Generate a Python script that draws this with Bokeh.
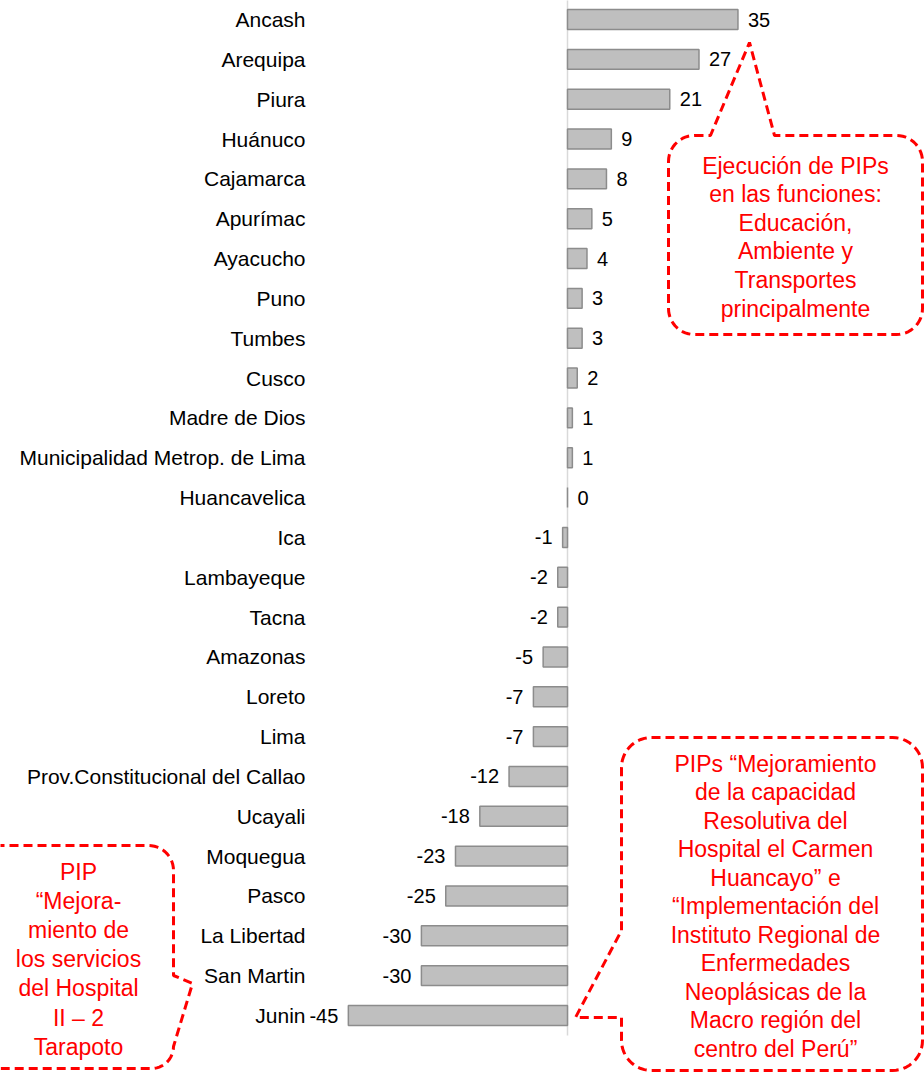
import numpy as np
from bokeh.plotting import figure
from bokeh.models import Range1d, ColumnDataSource
from bokeh.core.properties import value
from bokeh.embed import file_html
from bokeh.resources import INLINE

# ---------------- data ----------------
categories = ["Ancash", "Arequipa", "Piura", "Huánuco", "Cajamarca", "Apurímac",
              "Ayacucho", "Puno", "Tumbes", "Cusco", "Madre de Dios",
              "Municipalidad Metrop. de Lima", "Huancavelica", "Ica", "Lambayeque",
              "Tacna", "Amazonas", "Loreto", "Lima", "Prov.Constitucional del Callao",
              "Ucayali", "Moquegua", "Pasco", "La Libertad", "San Martin", "Junin"]
values = [35, 27, 21, 9, 8, 5, 4, 3, 3, 2, 1, 1, 0, -1, -2, -2, -5, -7, -7, -12,
          -18, -23, -25, -30, -30, -45]

callout_top_lines = ["Ejecución de PIPs", "en las funciones:", "Educación,",
                     "Ambiente y", "Transportes", "principalmente"]
callout_right_lines = ["PIPs “Mejoramiento", "de la capacidad", "Resolutiva del",
                       "Hospital el Carmen", "Huancayo” e", "“Implementación del",
                       "Instituto Regional de", "Enfermedades", "Neoplásicas de la",
                       "Macro región del", "centro del Perú”"]
callout_left_lines = ["PIP", "“Mejora-", "miento de", "los servicios",
                      "del Hospital", "II – 2", "Tarapoto"]

# ---------------- layout ----------------
W, H = 924, 1074
OFF = 0
ZERO_PX = 567 - OFF      # pixel of value 0
KX = 4.87                # pixels per unit
ROW0_PX = 19 - OFF       # pixel of first row centre
KY = 39.84               # pixels per row

FONT = value("Liberation Sans")
RED = "#FF0000"


def X(rx):
    return (rx - OFF - ZERO_PX) / KX


def Y(ry):
    return (ry - OFF - ROW0_PX) / KY


p = figure(width=W, height=H,
           x_range=Range1d(X(OFF), X(OFF + W)),
           y_range=Range1d(Y(OFF + H), Y(OFF)),
           output_backend="svg", toolbar_location=None, min_border=0,
           x_axis_location=None, y_axis_location=None)
p.grid.visible = False
p.outline_line_color = None
p.background_fill_color = "white"
p.border_fill_color = "white"

idx = list(range(len(categories)))
src = ColumnDataSource(dict(y=idx, v=values, cat=categories,
                            lab=[str(v) for v in values]))

# zero axis line
p.segment(x0=[0], y0=[-0.5], x1=[0], y1=[len(categories) - 0.5],
          line_color="#D9D9D9", line_width=1.5)

p.hbar(y="y", left=0, right="v", height=0.5, source=src,
       fill_color="#BFBFBF", line_color="#8C8C8C", line_width=1.5)

# category labels
p.text(x=X(305), y="y", text="cat", source=src, text_font=FONT,
       text_font_size="21px", text_color="#000000", text_align="right",
       text_baseline="middle")

pos = ColumnDataSource(dict(y=[i for i, v in zip(idx, values) if v >= 0],
                            v=[v for v in values if v >= 0],
                            lab=[str(v) for v in values if v >= 0]))
neg = ColumnDataSource(dict(y=[i for i, v in zip(idx, values) if v < 0],
                            v=[v for v in values if v < 0],
                            lab=[str(v) for v in values if v < 0]))
p.text(x="v", y="y", text="lab", source=pos, x_offset=10, text_font=FONT,
       text_font_size="20px", text_color="#000000", text_align="left",
       text_baseline="middle")
p.text(x="v", y="y", text="lab", source=neg, x_offset=-10, text_font=FONT,
       text_font_size="20px", text_color="#000000", text_align="right",
       text_baseline="middle")


# ---------------- callouts ----------------
def callout(x0, y0, x1, y1, r, top=(), right=(), left=(), r_br=None):
    pts = []
    rbr = r if r_br is None else r_br

    def arc(cx, cy, a0, a1, rr):
        for t in np.linspace(a0, a1, 14):
            pts.append((cx + rr * np.cos(t), cy + rr * np.sin(t)))

    pts.append((x0 + r, y0))
    pts.extend(top)
    arc(x1 - r, y0 + r, -np.pi / 2, 0, r)
    pts.extend(right)
    arc(x1 - rbr, y1 - rbr, 0, np.pi / 2, rbr)
    arc(x0 + r, y1 - r, np.pi / 2, np.pi, r)
    pts.extend(left)
    arc(x0 + r, y0 + r, np.pi, 1.5 * np.pi, r)
    pts.append((x0 + r, y0))
    xs = [X(a) for a, b in pts]
    ys = [Y(b) for a, b in pts]
    p.patch(xs, ys, fill_color="white", line_color=RED, line_width=3,
            line_dash="9 5")


def callout_text(cx, y_first, dy, lines):
    p.text(x=[X(cx)] * len(lines), y=[Y(y_first + i * dy) for i in range(len(lines))],
           text=lines, text_font=FONT, text_font_size="23px", text_color=RED,
           text_align="center", text_baseline="middle")


callout(668, 135, 922, 334, 26, top=[(710, 135), (749, 42), (774, 135)])
callout_text(795, 165, 28.6, callout_top_lines)

callout(621, 737, 922, 1070, 30, left=[(621, 1017), (575, 1017), (621, 930)])
callout_text(775, 763, 28.5, callout_right_lines)

callout(-30, 845, 173, 1068, 25, right=[(173, 975), (192, 983), (173, 1046)], r_br=22)
callout_text(78, 871, 29.2, callout_left_lines)

open("out.html", "w").write(file_html(p, INLINE))
